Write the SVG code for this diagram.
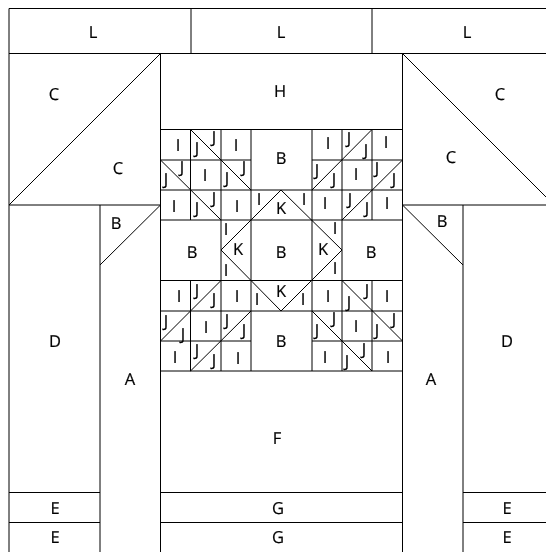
<svg xmlns="http://www.w3.org/2000/svg" width="546" height="552" viewBox="0 0 546 552">
<style>
.l{stroke:#000;stroke-width:1;fill:none}
text{font-family:"Open Sans","Noto Sans",sans-serif;font-size:16.5px;text-anchor:middle;fill:#000;stroke:#000;stroke-width:.2px;text-rendering:geometricPrecision}
</style>
<defs><filter id="gray" x="0" y="0" width="100%" height="100%" filterUnits="userSpaceOnUse" primitiveUnits="userSpaceOnUse" color-interpolation-filters="sRGB"><feOffset x="0" y="0" width="546" height="552" dx="0" dy="0"/></filter></defs>
<rect width="546" height="552" fill="#fff"/>
<g id="lines" class="l">
<path d="M9 552V8.5H546M9 53.5H546M191 8.5V53.5M372 8.5V53.5"/>
<path d="M160.5 53.5V552M402.5 53.5V552M100 205V552M463 205V552"/>
<path d="M9 205L160.5 53.5M9 205H160.5M100 265L160.5 205M402.5 53.5L546 197M402.5 205H546M402.5 205L463 265"/>
<path d="M9 492.5H100M9 522.5H100M160.5 492.5H402.5M160.5 522.5H402.5M463 492.5H546M463 522.5H546"/>
<path d="M160.5 129.5H402.5M160.5 160H251M312 160H402.5M160.5 190H402.5M160.5 220H402.5M160.5 280.5H402.5M160.5 311H402.5M160.5 341H251M312 341H402.5M160.5 371H402.5"/>
<path d="M190.5 129.5V220M221 129.5V220M251 129.5V371M312 129.5V371M342 129.5V220M372 129.5V220M190.5 280.5V371M221 220V371M342 220V371M372 280.5V371"/>
<path d="M190.5 129.5L251 190M160.5 160L221 220"/>
<path d="M372 129.5L312 190M402.5 160L342 220"/>
<path d="M221 280.5L160.5 341M251 311L190.5 371"/>
<path d="M342 280.5L402.5 341M312 311L372 371"/>
<path d="M281 190L221 250L281 311L342 250Z"/>
</g>
<g id="labels" filter="url(#gray)">
<text x="93" y="38">L</text><text x="281" y="38">L</text><text x="467" y="38">L</text>
<text x="54" y="100">C</text><text x="118" y="174">C</text><text x="280" y="97">H</text><text x="500" y="100">C</text><text x="451" y="163">C</text>
<text x="281" y="164">B</text><text x="116" y="229">B</text><text x="192" y="258">B</text><text x="281" y="258">B</text><text x="371" y="258">B</text><text x="442" y="227">B</text><text x="281" y="347">B</text>
<text x="55" y="347">D</text><text x="507" y="347">D</text><text x="130" y="385">A</text><text x="431" y="385">A</text><text x="277" y="444">F</text>
<text x="55" y="514">E</text><text x="55" y="543">E</text><text x="278" y="514">G</text><text x="278" y="543">G</text><text x="507" y="514">E</text><text x="507" y="543">E</text>
<text x="281" y="214">K</text><text x="238" y="255">K</text><text x="323" y="255">K</text><text x="281" y="297">K</text>
<text x="178" y="151">I</text><text x="197" y="154">J</text><text x="214" y="143">J</text><text x="236" y="151">I</text>
<text x="166" y="185">J</text><text x="182" y="173">J</text><text x="205" y="181">I</text><text x="227" y="184">J</text><text x="244" y="173">J</text>
<text x="174" y="212">I</text><text x="197" y="214">J</text><text x="214" y="204">J</text><text x="237" y="212">I</text><text x="259" y="205">I</text><text x="226" y="235">I</text>
<text x="328" y="149">I</text><text x="349" y="144">J</text><text x="366" y="156">J</text><text x="386" y="148">I</text>
<text x="317" y="176">J</text><text x="334" y="185">J</text><text x="356" y="180">I</text><text x="377" y="174">J</text><text x="394" y="185">J</text>
<text x="304" y="205">I</text><text x="325" y="209">I</text><text x="350" y="205">J</text><text x="367" y="214">J</text><text x="387" y="209">I</text><text x="335" y="234">I</text>
<text x="179" y="302">I</text><text x="197" y="296">J</text><text x="214" y="305">J</text><text x="237" y="302">I</text><text x="226" y="276">I</text><text x="257" y="305">I</text>
<text x="166" y="327">J</text><text x="183" y="340">J</text><text x="206" y="333">I</text><text x="227" y="326">J</text><text x="244" y="336">J</text>
<text x="175" y="363">I</text><text x="197" y="356">J</text><text x="214" y="366">J</text><text x="238" y="364">I</text>
<text x="335" y="274">I</text><text x="303" y="305">I</text><text x="328" y="302">I</text><text x="349" y="308">J</text><text x="367" y="296">J</text><text x="387" y="302">I</text>
<text x="317" y="336">J</text><text x="334" y="324">J</text><text x="356" y="332">I</text><text x="377" y="336">J</text><text x="394" y="325">J</text>
<text x="325" y="363">I</text><text x="347" y="367">J</text><text x="364" y="355">J</text><text x="388" y="363">I</text>
</g>
</svg>
